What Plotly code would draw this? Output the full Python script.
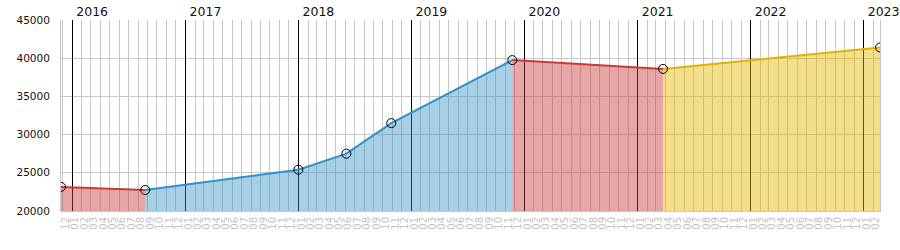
import plotly.graph_objects as go
import pandas as pd

# ---- data ----
dates = ["2015-11-26", "2016-08-24", "2018-01-01", "2018-06-05",
         "2018-10-28", "2019-11-23", "2021-03-24", "2023-02-23"]
values = [23150, 22750, 25400, 27500, 31500, 39750, 38600, 41400]

# segments (start index, end index, colour name)
segments = [(0, 1, "red"), (1, 5, "blue"), (5, 6, "red"), (6, 7, "yellow")]

month_ticks = pd.date_range("2015-12-01", "2023-02-01", freq="MS")
month_labels = [d.strftime("%m") for d in month_ticks]
year_ticks = [f"{y}-01-01" for y in range(2016, 2024)]
year_labels = [str(y) for y in range(2016, 2024)]
y_ticks = [20000, 25000, 30000, 35000, 40000, 45000]
y_labels = [str(v) for v in y_ticks]

colors = {
    "red": ("rgb(200,58,58)", "rgba(200,58,58,0.45)"),
    "blue": ("rgb(50,145,200)", "rgba(50,145,200,0.43)"),
    "yellow": ("rgb(225,178,0)", "rgba(228,185,0,0.46)"),
}

fig = go.Figure()

for s, e, c in segments:
    lc, fc = colors[c]
    fig.add_trace(go.Scatter(
        x=dates[s:e + 1], y=values[s:e + 1], mode="lines",
        line=dict(color=lc, width=2), fill="tozeroy", fillcolor=fc,
        hoverinfo="skip", showlegend=False))

fig.add_trace(go.Scatter(
    x=dates, y=values, mode="markers",
    marker=dict(symbol="circle-open", size=9, color="black",
                line=dict(width=1, color="black")),
    showlegend=False))

# dummy trace for the top (year) axis
fig.add_trace(go.Scatter(
    x=[dates[0], dates[-1]], y=[values[0], values[-1]], mode="lines",
    line=dict(width=0), xaxis="x2", hoverinfo="skip", showlegend=False,
    opacity=0))

rng = [dates[0], dates[-1]]

fig.update_layout(
    width=900, height=250,
    margin=dict(l=61, r=20, t=20, b=39),
    paper_bgcolor="white", plot_bgcolor="white",
    font=dict(family="DejaVu Sans", color="#111"),
    xaxis=dict(
        type="date", range=rng, automargin=False,
        tickmode="array", tickvals=month_ticks, ticktext=month_labels,
        tickangle=-90, tickfont=dict(size=10, color="#c4c4c4"),
        ticklabelshift=3, ticklabelstandoff=1,
        showgrid=False, zeroline=False,
        showline=True, linecolor="#c8c8c8", linewidth=1,
    ),
    xaxis2=dict(
        type="date", range=rng, overlaying="x", side="top", matches="x",
        automargin=False,
        tickmode="array", tickvals=year_ticks, ticktext=year_labels,
        tickfont=dict(size=12.5, color="#111"),
        ticklabelshift=20, ticklabelstandoff=1,
        showgrid=True, gridcolor="black", gridwidth=1,
        minor=dict(tickvals=month_ticks, showgrid=True,
                   gridcolor="#c8c8c8", gridwidth=1),
        showline=False, zeroline=False,
    ),
    yaxis=dict(
        range=[20000, 45000], tickmode="array", tickvals=y_ticks,
        ticktext=y_labels, automargin=False,
        tickfont=dict(size=10.5, color="#111"),
        ticklabelstandoff=8,
        showgrid=True, gridcolor="#c8c8c8", gridwidth=1,
        zeroline=False, showline=True, mirror=True,
        linecolor="#c8c8c8", linewidth=1,
    ),
)

fig.write_html("out.html")
